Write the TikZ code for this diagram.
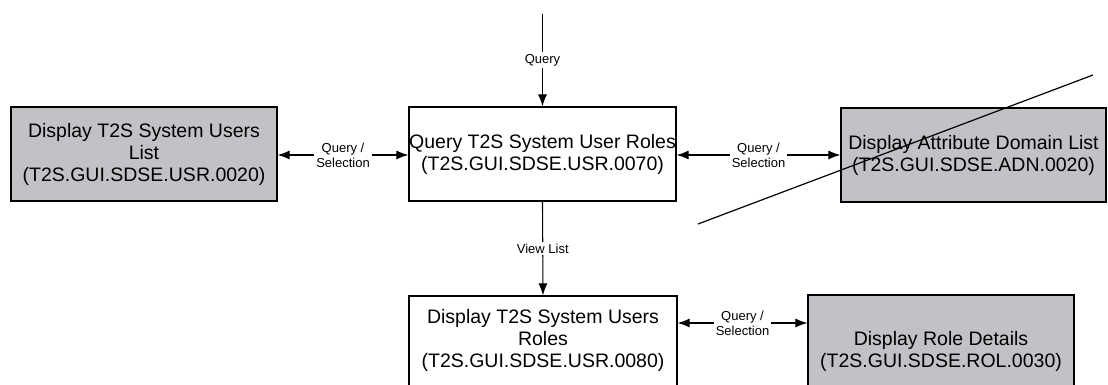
\documentclass[tikz,border=0pt]{standalone}
\usepackage{fontspec}
\setmainfont{Liberation Sans}
\usetikzlibrary{arrows.meta}
\definecolor{boxgray}{RGB}{195,193,197}
\tikzset{
  box/.style={draw=black, line width=1.2pt, rectangle, inner sep=0pt, align=center,
    font=\fontsize{19.5}{22}\selectfont},
  graybox/.style={box, fill=boxgray},
  btext/.style={inner sep=0pt, align=center, font=\fontsize{19.5}{22}\selectfont},
  conn/.style={line width=1.1pt, -{Latex[length=12pt,width=9pt]}},
  biconn/.style={line width=1.1pt, {Latex[length=12pt,width=9pt]}-{Latex[length=12pt,width=9pt]}},
  lbl/.style={fill=white, inner sep=2pt, align=center, font=\fontsize{13}{15}\selectfont}
}
\begin{document}
\begin{tikzpicture}[x=1pt,y=-1pt]
\useasboundingbox (0,0) rectangle (1108,385);
\node[graybox, minimum width=266pt, minimum height=94pt] (usrlist) at (144,154)
  {Display T2S System Users\\List\\(T2S.GUI.SDSE.USR.0020)};
\node[box, minimum width=267pt, minimum height=94pt] (query) at (542.5,154)
  {Query T2S System User Roles\\(T2S.GUI.SDSE.USR.0070)};
\node[graybox, minimum width=265pt, minimum height=94pt] (adn) at (973.5,155)
  {Display Attribute Domain List\\(T2S.GUI.SDSE.ADN.0020)};
\node[box, minimum width=268pt, minimum height=124pt] (roles) at (543,358) {};
\node[btext] (rolestext) at (543,340) {Display T2S System Users\\Roles\\(T2S.GUI.SDSE.USR.0080)};
\node[graybox, minimum width=266pt, minimum height=125pt] (rol) at (941,357.5) {};
\node[btext] (roltext) at (941,351) {Display Role Details\\(T2S.GUI.SDSE.ROL.0030)};
\coordinate (topin) at (542.5,14);
\draw[conn] (topin) -- node[lbl] {Query} (query.north);
\draw[conn] (query.south) -- node[lbl] {View List} (roles.north);
\draw[biconn] (usrlist.east |- 0,155) -- node[lbl] {Query /\\Selection} (query.west |- 0,155);
\draw[biconn] (query.east |- 0,155) -- node[lbl] {Query /\\Selection} (adn.west |- 0,155);
\draw[biconn] (roles.north east |- 0,323) -- node[lbl] {Query /\\Selection} (rol.north west |- 0,323);
\coordinate (d1) at (698,224);
\coordinate (d2) at (1093,75);
\draw[line width=1.2pt] (d1) -- (d2);
\end{tikzpicture}
\end{document}
